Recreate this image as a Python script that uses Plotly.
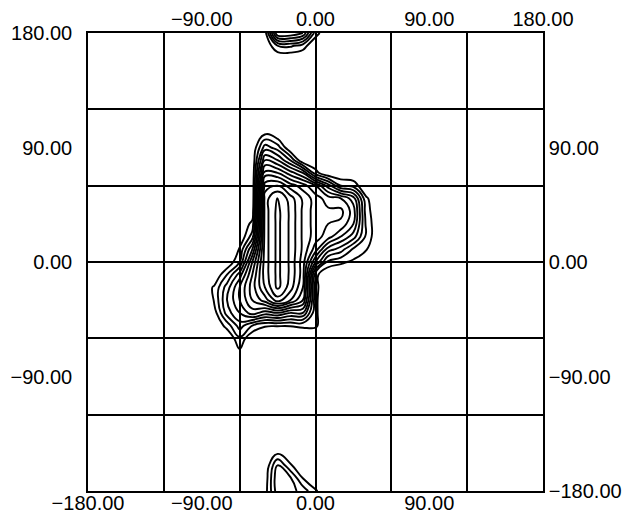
import plotly.graph_objects as go

# phi (x) grid and psi (y) grid in degrees
phi = [-100, -90, -80, -70, -60, -50, -40, -30, -20, -10, 0, 10, 20, 30, 40, 50, 60]
psi = [180, 170, 160, 150, 140, 130, 120, 110, 100, 90, 80, 70, 60, 50, 40, 30, 20, 10, 0,
       -10, -20, -30, -40, -50, -60, -70, -80, -90, -100, -110, -120, -130, -140, -150,
       -160, -170, -180]

# density values (rows follow psi, columns follow phi)
density = [
    [0, 0, 0, 0, 0, 0, 0.5, 7, 7, 6, 1.5, 0, 0, 0, 0, 0, 0],            # 180
    [0, 0, 0, 0, 0, 0, 0, 2, 2.2, 1.5, 0, 0, 0, 0, 0, 0, 0],            # 170
    [0, 0, 0, 0, 0, 0, 0, 0, 0, 0, 0, 0, 0, 0, 0, 0, 0],                # 160
    [0, 0, 0, 0, 0, 0, 0, 0, 0, 0, 0, 0, 0, 0, 0, 0, 0],                # 150
    [0, 0, 0, 0, 0, 0, 0, 0, 0, 0, 0, 0, 0, 0, 0, 0, 0],                # 140
    [0, 0, 0, 0, 0, 0, 0, 0, 0, 0, 0, 0, 0, 0, 0, 0, 0],                # 130
    [0, 0, 0, 0, 0, 0, 0, 0, 0, 0, 0, 0, 0, 0, 0, 0, 0],                # 120
    [0, 0, 0, 0, 0, 0, 0, 0, 0, 0, 0, 0, 0, 0, 0, 0, 0],                # 110
    [0, 0, 0, 0, 0, 0, 1.1, 0.3, 0, 0, 0, 0, 0, 0, 0, 0, 0],            # 100
    [0, 0, 0, 0, 0, 0, 3.5, 2.5, 0, 0, 0, 0, 0, 0, 0, 0, 0],            # 90
    [0, 0, 0, 0, 0, 0, 6, 5, 3, 0, 0, 0, 0, 0, 0, 0, 0],                # 80
    [0, 0, 0, 0, 0, 0, 8.5, 8, 6.5, 5, 1.4, 0, 0, 0, 0, 0, 0],          # 70
    [0, 0, 0, 0, 0, 0, 10.5, 11, 9.5, 8.5, 7, 4.5, 2, 1.6, 0, 0, 0],    # 60
    [0, 0, 0, 0, 0, 0, 11.5, 13.2, 11.5, 9.8, 8.5, 7.5, 7, 5.5, 1.2, 0, 0],   # 50
    [0, 0, 0, 0, 0, 0.3, 11.5, 13.3, 11.8, 9.8, 8.5, 8.2, 8.3, 6.5, 1.5, 0, 0],  # 40
    [0, 0, 0, 0, 0, 1.3, 11.5, 13.3, 11.8, 9.8, 8.5, 8.0, 7.8, 6, 1.8, 0, 0],    # 30
    [0, 0, 0, 0, 0, 2.5, 11.5, 13.3, 11.8, 9.8, 8.5, 7.5, 6, 4.5, 1.8, 0, 0],    # 20
    [0, 0, 0, 0, 1.1, 5, 11.5, 13.3, 11.8, 9.8, 7.5, 4.5, 3.5, 1.8, 1.1, 0, 0],  # 10
    [0, 0, 0, 0, 2, 7, 11.5, 13.3, 11.8, 9.5, 5, 1.7, 1.2, 0.8, 0, 0, 0],        # 0
    [0, 0, 0, 2, 4.5, 8, 11.5, 13.3, 11.8, 9.5, 1.3, 0, 0, 0, 0, 0, 0],          # -10
    [0, 0, 1.2, 3.5, 6, 8.5, 11, 13.3, 11.5, 9, 1.3, 0, 0, 0, 0, 0, 0],          # -20
    [0, 0, 1.1, 4, 6, 8, 9.5, 11.5, 10, 8, 1.2, 0, 0, 0, 0, 0, 0],               # -30
    [0, 0, 0.5, 3.5, 5, 6.5, 5.5, 6, 5, 5, 1.2, 0, 0, 0, 0, 0, 0],               # -40
    [0, 0, 0, 1.4, 3.5, 2, 1.1, 1.05, 1.05, 1.2, 1.2, 0, 0, 0, 0, 0, 0],         # -50
    [0, 0, 0, 0, 1.8, 0, 0, 0, 0, 0, 0, 0, 0, 0, 0, 0, 0],              # -60
    [0, 0, 0, 0, 0.85, 0, 0, 0, 0, 0, 0, 0, 0, 0, 0, 0, 0],             # -70
    [0, 0, 0, 0, 0, 0, 0, 0, 0, 0, 0, 0, 0, 0, 0, 0, 0],                # -80
    [0, 0, 0, 0, 0, 0, 0, 0, 0, 0, 0, 0, 0, 0, 0, 0, 0],                # -90
    [0, 0, 0, 0, 0, 0, 0, 0, 0, 0, 0, 0, 0, 0, 0, 0, 0],                # -100
    [0, 0, 0, 0, 0, 0, 0, 0, 0, 0, 0, 0, 0, 0, 0, 0, 0],                # -110
    [0, 0, 0, 0, 0, 0, 0, 0, 0, 0, 0, 0, 0, 0, 0, 0, 0],                # -120
    [0, 0, 0, 0, 0, 0, 0, 0, 0, 0, 0, 0, 0, 0, 0, 0, 0],                # -130
    [0, 0, 0, 0, 0, 0, 0, 0, 0, 0, 0, 0, 0, 0, 0, 0, 0],                # -140
    [0, 0, 0, 0, 0, 0, 0, 0.8, 0, 0, 0, 0, 0, 0, 0, 0, 0],              # -150
    [0, 0, 0, 0, 0, 0, 0, 3.2, 1.2, 0, 0, 0, 0, 0, 0, 0, 0],            # -160
    [0, 0, 0, 0, 0, 0, 0.3, 3.8, 3.2, 1.0, 0, 0, 0, 0, 0, 0, 0],        # -170
    [0, 0, 0, 0, 0, 0, 0.5, 3.6, 3.4, 2.6, 1.2, 0, 0, 0, 0, 0, 0],      # -180
]

contour_levels = dict(start=1, end=13, size=1)

bottom_ticks = [-180, -90, 0, 90]
top_ticks = [-90, 0, 90, 180]
left_ticks = [180, 90, 0, -90]
right_ticks = [90, 0, -90, -180]
grid_vals = [-120, -60, 0, 60, 120]


def fmt(v):
    return f"{v:.2f}".replace("-", "\u2212")


fig = go.Figure()
fig.add_trace(go.Contour(
    x=phi, y=psi[::-1], z=density[::-1],
    contours=dict(coloring="lines", showlabels=False, **contour_levels),
    colorscale=[[0, "black"], [1, "black"]],
    line=dict(width=1.9, smoothing=1.3),
    showscale=False, hoverinfo="skip",
))
fig.add_trace(go.Scatter(x=[None], y=[None], xaxis="x2", yaxis="y2",
                         showlegend=False, hoverinfo="skip"))

font = dict(family="Liberation Sans, Arial, Helvetica, sans-serif", size=20, color="black")
common = dict(range=[-180, 180], showgrid=False, zeroline=False, showline=True,
              linecolor="black", linewidth=1.6, ticks="", tickfont=font, automargin=False)
minor = dict(tickvals=grid_vals, showgrid=True, gridcolor="black", gridwidth=1.6, ticks="")

fig.update_layout(
    template="none",
    width=627, height=515,
    margin=dict(l=88, r=84, t=33, b=24, pad=0),
    paper_bgcolor="white", plot_bgcolor="white",
    showlegend=False,
    xaxis=dict(**common, tickvals=bottom_ticks, ticktext=[fmt(v) for v in bottom_ticks],
               minor=minor, side="bottom", ticklabelstandoff=-7),
    xaxis2=dict(**common, tickvals=top_ticks, ticktext=[fmt(v) for v in top_ticks],
                overlaying="x", side="top", anchor="y", ticklabelstandoff=-3),
    yaxis=dict(**common, tickvals=left_ticks, ticktext=[fmt(v) for v in left_ticks],
               minor=minor, side="left", ticklabelstandoff=10),
    yaxis2=dict(**common, tickvals=right_ticks, ticktext=[fmt(v) for v in right_ticks],
                overlaying="y", side="right", anchor="x"),
)

fig.write_html(
    "out.html",
    config={"displayModeBar": False},
    post_script="document.body.style.margin='0px';document.body.style.overflow='hidden';",
)
